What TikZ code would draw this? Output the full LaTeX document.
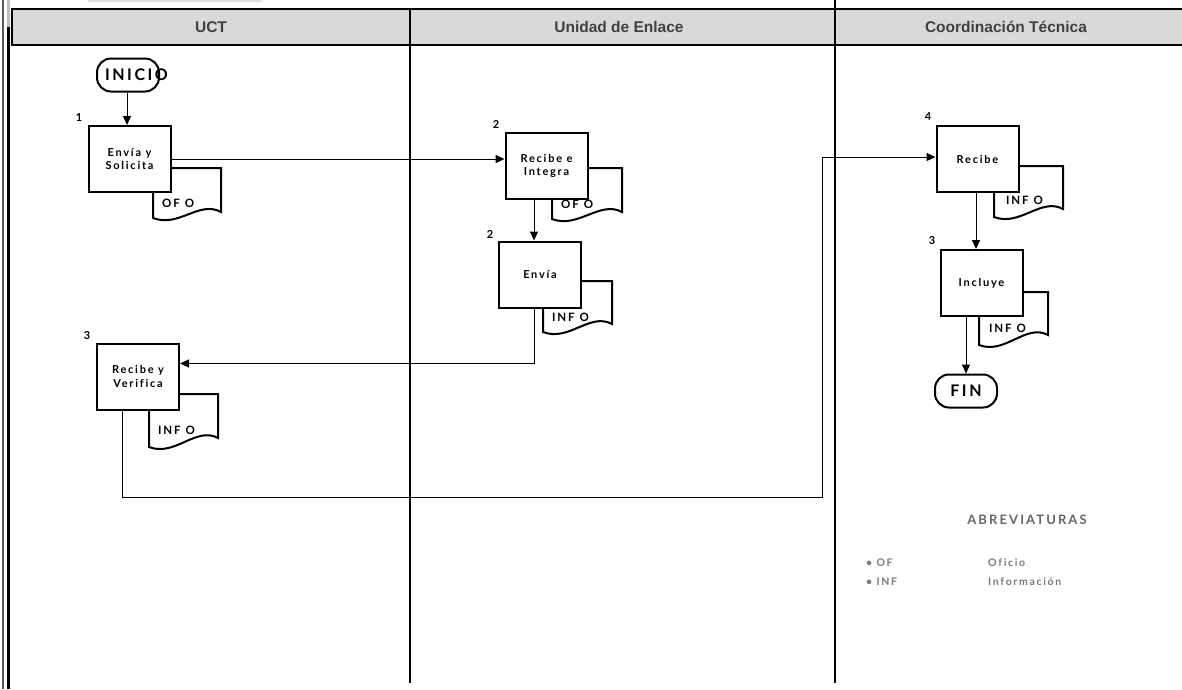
\documentclass[tikz,border=0pt]{standalone}
\usepackage{fontspec}
\setmainfont{Liberation Sans}
\newfontfamily\flowfont[LetterSpace=16,Ligatures=NoCommon]{Lato}
\newfontfamily\headfont{Liberation Sans}
\usetikzlibrary{arrows.meta}
\definecolor{hdrgray}{HTML}{D9D9D9}
\definecolor{hdrtext}{HTML}{404040}
\definecolor{abbrtitle}{HTML}{666666}
\definecolor{abbrtext}{HTML}{7A7A7A}
\newcommand{\docsh}[5]{%
  \draw[docst] (#1,#5) -- (#1,#2) -- (#3,#2) -- (#3,#4)
    .. controls +(-22,-12) and +(26,10) .. (#1,#5) -- cycle;}
\begin{document}
\begin{tikzpicture}[x=1pt,y=-1pt,
  proc/.style={draw, fill=white, line width=2pt, minimum width=82pt,
    minimum height=66pt, inner sep=0pt, align=center,
    font=\flowfont\bfseries\fontsize{11}{13.5}\selectfont},
  term/.style={draw, fill=white, line width=2pt, rounded corners=14pt,
    minimum height=33pt, inner sep=0pt,
    font=\flowfont\bfseries\fontsize{16}{18}\selectfont},
  docst/.style={draw, fill=white, line width=2pt},
  doctxt/.style={anchor=west, inner sep=0pt,
    font=\flowfont\bfseries\fontsize{11.5}{13}\selectfont},
  num/.style={inner sep=0pt, font=\flowfont\bfseries\fontsize{11}{12}\selectfont},
  arr/.style={line width=1pt, -{Triangle[length=9pt,width=8pt]}},
  lane/.style={line width=2pt},
  hdr/.style={text=hdrtext, font=\headfont\bfseries\fontsize{15.5}{17}\selectfont},
  abbr/.style={anchor=west, inner sep=0pt, text=abbrtext,
    font=\flowfont\bfseries\fontsize{10.5}{12}\selectfont}]
\useasboundingbox (0,0) rectangle (1182,689);
% faint top mark
\draw[gray!25, line width=2pt] (88,1) -- (262,1);
% left border
\draw[gray!70!black, line width=1.3pt] (3,0) -- (3,689);
\draw[gray!50, line width=3pt] (8,0) -- (8,27);
\draw[black, line width=3pt] (8,27) -- (8,689);
% header band
\draw[lane, fill=hdrgray] (12,9) rectangle (1184,45);
\draw[lane] (410,9) -- (410,683);
\draw[lane] (835,0) -- (835,683);
\node[hdr] (h1) at (211,27) {UCT};
\node[hdr] (h2) at (619,27) {Unidad de Enlace};
\node[hdr] (h3) at (1006,27) {Coordinación Técnica};
% documents
\docsh{153}{168}{221}{212}{218}
\node[doctxt] (d1) at (162,203) {OF\hspace{5pt}O};
\docsh{552}{168}{622}{212}{219}
\node[doctxt] (d2) at (561,204) {OF\hspace{5pt}O};
\docsh{543}{281}{612}{324}{332}
\node[doctxt] (d3) at (552,317) {INF\hspace{5pt}O};
\docsh{149}{394}{218}{438}{447}
\node[doctxt] (d4) at (158,430) {INF\hspace{5pt}O};
\docsh{994}{166}{1063}{209}{217}
\node[doctxt] (d5) at (1006,200) {INF\hspace{5pt}O};
\docsh{979}{292}{1048}{335}{345}
\node[doctxt] (d6) at (989,328) {INF\hspace{5pt}O};
% terminals
\node[term, minimum width=62pt, text width=46pt, align=left] (inicio) at (128,75) {INICIO};
\node[term, minimum width=62pt] (fin) at (966,391) {FIN};
% process boxes
\node[proc] (b1) at (129.5,159) {Envía y\\Solicita};
\node[proc] (b2) at (546.5,166) {Recibe e\\Integra};
\node[proc] (b3) at (540,274.5) {Envía};
\node[proc] (b4) at (138,376.5) {Recibe y\\Verifica};
\node[proc] (b5) at (977.5,159) {Recibe};
\node[proc] (b6) at (981.5,283) {Incluye};
% step numbers
\node[num] (n1) at (79,118) {1};
\node[num] (n2) at (496,124) {2};
\node[num] (n3) at (490,234) {2};
\node[num] (n4) at (87,336) {3};
\node[num] (n5) at (928,117) {4};
\node[num] (n6) at (932,241) {3};
% connectors
\draw[arr] (inicio.south -| 127,0) -- (b1.north -| 127,0);
\draw[arr] (b1.east) -- (b1.east -| b2.west);
\draw[arr] ([xshift=-12.5pt]b2.south) -- ([xshift=-12.5pt]b2.south |- b3.north);
\draw[arr] ([xshift=-6pt]b3.south) |- ([yshift=13pt]b4.east);
\coordinate (c1) at (822,497);
\draw[arr] ([xshift=-16pt]b4.south) |- (c1) |- ([yshift=2pt]b5.west);
\draw[arr] ([xshift=-1.5pt]b5.south) -- ([xshift=-1.5pt]b5.south |- b6.north);
\draw[arr] (fin.north |- b6.south) -- (fin.north);
% abbreviations
\node[text=abbrtitle, font=\flowfont\bfseries\fontsize{13}{15}\selectfont] (abt) at (1027,520) {ABREVIATURAS};
\node[abbr] (a1) at (866,563) {• OF};
\node[abbr] (a2) at (988,563) {Oficio};
\node[abbr] (a3) at (866,582) {• INF};
\node[abbr] (a4) at (988,582) {Información};
\end{tikzpicture}
\end{document}
